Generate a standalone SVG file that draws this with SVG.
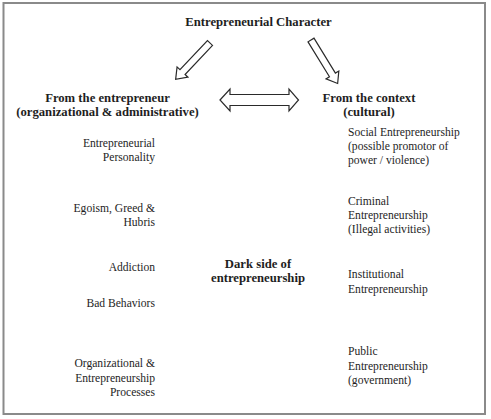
<svg xmlns="http://www.w3.org/2000/svg" width="491" height="419" viewBox="0 0 491 419">
<style>
text{font-family:"Liberation Serif","Times New Roman",serif;fill:#1e1e1e}
.b{font-weight:bold;font-size:12.7px}
.r{font-size:11.6px}
.c{text-anchor:middle}
.e{text-anchor:end}
.arr{fill:#fff;stroke:#2a2a2a;stroke-width:1.2;stroke-linejoin:miter}
</style>
<rect x="0" y="0" width="491" height="419" fill="#fff"/>
<rect x="3.5" y="3" width="481.5" height="411" fill="none" stroke="#8a8a8a" stroke-width="2"/>
<g id="connectors">
<path class="arr" transform="translate(210,43) rotate(133.4)" d="M0,-3.5 L40,-3.5 L40,-7.5 L50,0 L40,7.5 L40,3.5 L0,3.5 Z"/>
<path class="arr" transform="translate(311,40) rotate(58.5)" d="M0,-3.5 L41,-3.5 L41,-7.5 L51,0 L41,7.5 L41,3.5 L0,3.5 Z"/>
<path class="arr" d="M220,100 L230,89 L230,94.5 L289,94.5 L289,89 L298.5,100 L289,111 L289,105.5 L230,105.5 L230,111 Z"/>
</g>
<g id="character"><text class="b c" x="258.5" y="26">Entrepreneurial Character</text></g>
<g id="from-entrepreneur"><text class="b c" x="107.5" y="101.5">From the entrepreneur</text><text class="b c" x="107.5" y="115.5">(organizational &amp; administrative)</text></g>
<g id="from-context"><text class="b c" x="369" y="101.5">From the context</text><text class="b c" x="369" y="115.5">(cultural)</text></g>
<g id="dark-side"><text class="b c" x="258" y="268">Dark side of</text><text class="b c" x="258" y="282">entrepreneurship</text></g>
<g id="personality"><text class="r e" x="155" y="147">Entrepreneurial</text><text class="r e" x="155" y="161">Personality</text></g>
<g id="egoism"><text class="r e" x="155" y="212">Egoism, Greed &amp;</text><text class="r e" x="155" y="226">Hubris</text></g>
<g id="addiction"><text class="r e" x="155" y="271">Addiction</text></g>
<g id="bad-behaviors"><text class="r e" x="155" y="307">Bad Behaviors</text></g>
<g id="processes"><text class="r e" x="155" y="367">Organizational &amp;</text><text class="r e" x="155" y="381.5">Entrepreneurship</text><text class="r e" x="155" y="396">Processes</text></g>
<g id="social"><text class="r" x="348" y="136">Social Entrepreneurship</text><text class="r" x="348" y="150">(possible promotor of</text><text class="r" x="348" y="164">power / violence)</text></g>
<g id="criminal"><text class="r" x="348" y="205">Criminal</text><text class="r" x="348" y="219">Entrepreneurship</text><text class="r" x="348" y="233">(Illegal activities)</text></g>
<g id="institutional"><text class="r" x="348" y="278">Institutional</text><text class="r" x="348" y="292.5">Entrepreneurship</text></g>
<g id="public"><text class="r" x="348" y="355">Public</text><text class="r" x="348" y="370">Entrepreneurship</text><text class="r" x="348" y="384">(government)</text></g>
</svg>
